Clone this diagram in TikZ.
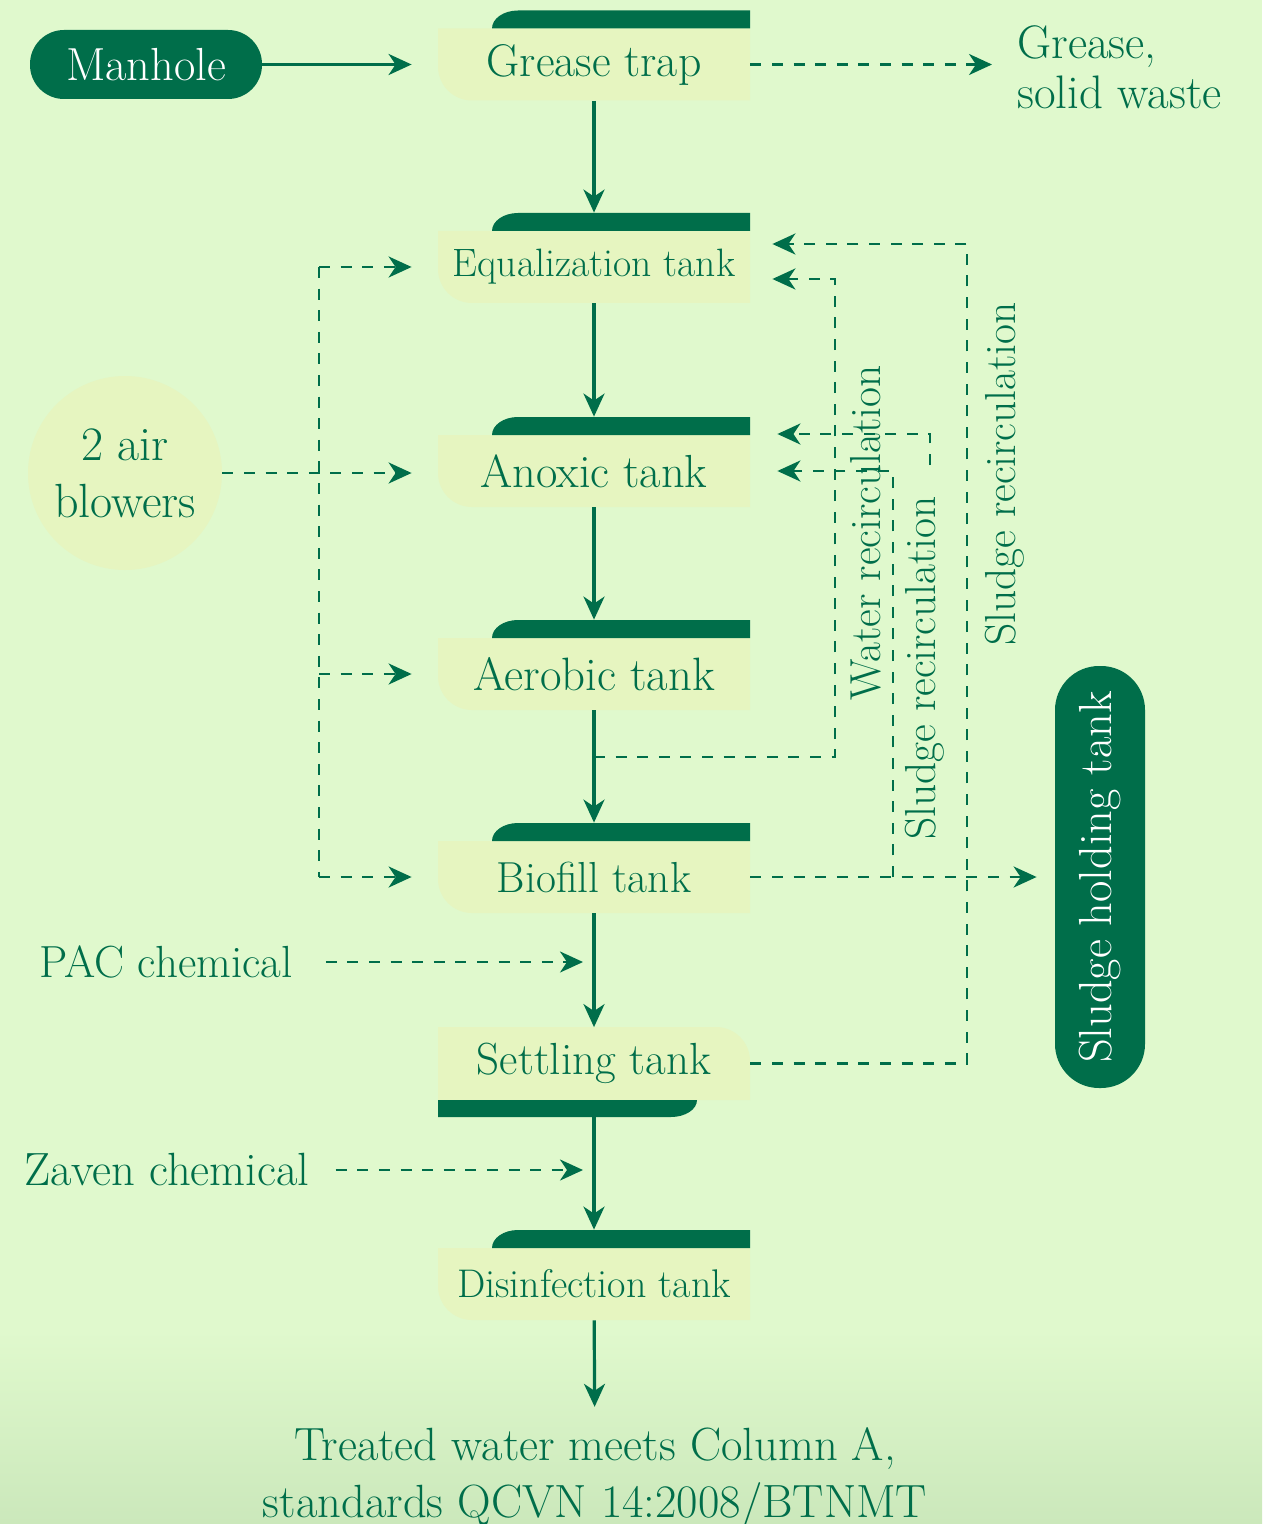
\documentclass[tikz,border=0pt]{standalone}
\usepackage{tikz}
\usetikzlibrary{arrows.meta}

\definecolor{bgcol}{HTML}{E0F9CD}
\definecolor{bgdeep}{HTML}{CBE8BB}
\definecolor{tankcol}{HTML}{E6F5C0}
\definecolor{dgreen}{HTML}{006E4A}

\begin{document}
\begin{tikzpicture}[x=0.5pt, y=-0.5pt,
    txt/.style={text=dgreen, inner sep=2pt, font=\fontsize{23.3}{28.5}\selectfont},
    tank/.style={txt, minimum width=156pt, minimum height=36pt, inner sep=0pt},
    vlab/.style={txt, rotate=90, font=\fontsize{21.7}{24}\selectfont},
    pill/.style={fill=dgreen, text=white, inner sep=0pt, font=\fontsize{23.2}{25}\selectfont},
    flow/.style={draw=dgreen, line width=1.6pt, -{Stealth[length=11.5pt, width=10.5pt, inset=3.5pt]}},
    dline/.style={draw=dgreen, line width=1.4pt, dash pattern=on 5.5pt off 5.3pt},
    dflow/.style={dline, -{Stealth[length=11.5pt, width=10.5pt, inset=3.5pt]}}]

    \useasboundingbox (0,0) rectangle (1262,1524);
    \fill[bgcol] (0,0) rectangle (1262,1524);
    \shade[top color=bgcol, bottom color=bgdeep] (0,1330) rectangle (1262,1524);

    % tanks
    \foreach \nm/\yy/\txt/\sz in {grease/64.5/Grease trap/22.9, equal/267/Equalization tank/19.8,
        anoxic/471/Anoxic tank/23.2, aerobic/674/Aerobic tank/23.4,
        biofill/877/Biofill tank/21.7, disinf/1284/Disinfection tank/20} {
        \fill[tankcol] (438,\yy-36) -- (750,\yy-36) -- (750,\yy+36) -- (472,\yy+36)
            arc[start angle=270, end angle=180, radius=17pt] -- cycle;
        \fill[dgreen] (492,\yy-36) arc[start angle=180, end angle=90, x radius=13pt, y radius=9pt]
            -- (750,\yy-54) -- (750,\yy-36) -- cycle;
        \node[tank, font=\fontsize{\sz}{\sz}\selectfont] (\nm) at (594,\yy) {\txt};
    }

    \fill[tankcol] (438,1027) -- (716,1027) arc[start angle=90, end angle=0, radius=17pt]
        -- (750,1100) -- (438,1100) -- cycle;
    \fill[dgreen] (438,1100) -- (438,1117) -- (671,1117)
        arc[start angle=270, end angle=360, x radius=13pt, y radius=8.5pt] -- cycle;
    \node[tank, font=\fontsize{22.5}{22.5}\selectfont] (settling) at (594,1063.5) {Settling tank};

    % other nodes
    \node[pill, minimum width=116pt, minimum height=34.5pt, rounded corners=17pt] (manhole) at (146,64.5) {Manhole};
    \node[txt, align=left, anchor=west, font=\fontsize{23.5}{25}\selectfont] (waste) at (1013,67) {Grease,\\solid waste};
    \node[txt, circle, fill=tankcol, minimum size=97pt, align=center, font=\fontsize{24}{28.5}\selectfont] (blowers) at (125,473) {2 air\\blowers};
    \node[txt, font=\fontsize{22.5}{25}\selectfont] (pac) at (166,962) {PAC chemical};
    \node[txt] (zaven) at (167,1170) {Zaven chemical};
    \node[pill, rotate=90, minimum width=211pt, minimum height=45pt, rounded corners=22pt] (sludge) at (1100,877) {Sludge holding tank};
    \node[txt, align=center] (treated) at (595,1478) {Treated water meets Column A,\\standards QCVN 14:2008/BTNMT};

    \node[vlab] (wrlab) at (866,533) {Water recirculation};
    \node[vlab] (srlab) at (925,668) {Sludge recirculation};
    \node[vlab] (srlabout) at (1005,474) {Sludge recirculation};

    \coordinate (atop) at (319,267);
    \coordinate (abot) at (319,877);
    \coordinate (pacin) at (583,962);
    \coordinate (zavin) at (583,1170);
    \coordinate (wrsrc) at (594,757);
    \coordinate (wrbend) at (835,279);
    \coordinate (srbio) at (893,877);
    \coordinate (srstub) at (930,465);
    \coordinate (srtop) at (967,244);

    % main flow
    \draw[flow, shorten >=13pt] (manhole) -- (grease);
    \draw[flow] (grease) -- ([yshift=9pt]equal.north);
    \draw[flow] (equal) -- ([yshift=9pt]anoxic.north);
    \draw[flow] (anoxic) -- ([yshift=9pt]aerobic.north);
    \draw[flow] (aerobic) -- ([yshift=9pt]biofill.north);
    \draw[flow] (biofill) -- (settling);
    \draw[flow] ([yshift=-8.5pt]settling.south) -- ([yshift=9pt]disinf.north);
    \draw[flow, shorten >=8pt] (disinf) -- (treated);

    % air and chemicals
    \draw[dflow, shorten >=10.5pt] (grease.east) -- (grease.east -| waste.west);
    \draw[dflow, shorten >=13pt] (blowers) -- (blowers -| anoxic.west);
    \draw[dline] (atop) -- (abot);
    \draw[dflow, shorten >=13pt] (atop) -- (equal);
    \draw[dflow, shorten >=13pt] (atop |- aerobic) -- (aerobic);
    \draw[dflow, shorten >=13pt] (abot) -- (biofill);
    \draw[dflow, shorten <=14.5pt] (pac) -- (pacin);
    \draw[dflow, shorten <=11pt] (zaven) -- (zavin);

    % recirculation
    \draw[dflow, shorten >=9pt] (biofill) -- (sludge);
    \draw[dflow, shorten >=11pt] (wrsrc) -| (wrbend) -- ([yshift=-6pt]equal.east);
    \draw[dflow, shorten >=13.5pt] (srbio) |- (anoxic.east);
    \draw[dflow, shorten >=13.5pt] (srstub) |- ([yshift=18.5pt]anoxic.east);
    \draw[dflow, shorten >=11pt] (settling.east) -| (srtop) -- ([yshift=11.5pt]equal.east);
\end{tikzpicture}
\end{document}
